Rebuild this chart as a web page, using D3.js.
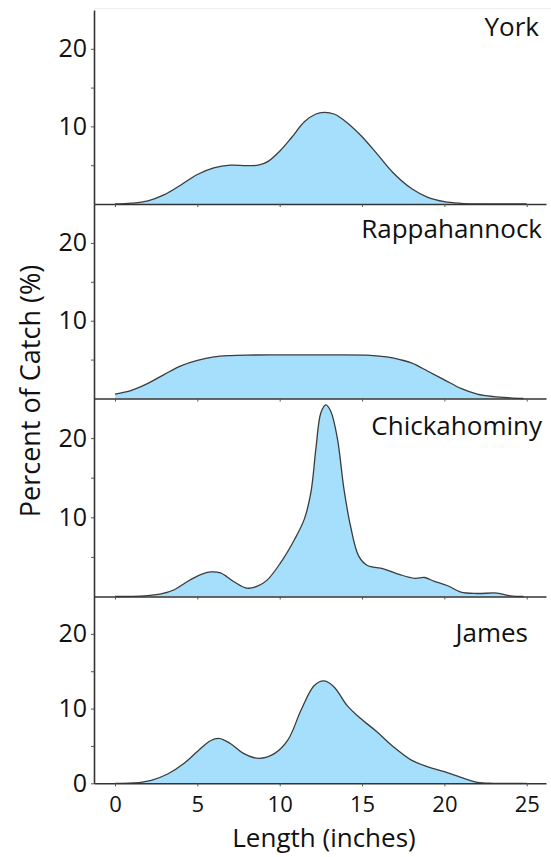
<!DOCTYPE html>
<html>
<head>
<meta charset="utf-8">
<script src="https://cdn.jsdelivr.net/npm/d3@7"></script>
<style>
  body { margin: 0; background: #fff; }
  text { font-family: "Open Sans", Lato, sans-serif; fill: #111; }
</style>
</head>
<body>
<script>

// length (inches), percent of catch
const york = [[0,0],[1,0.1],[2,0.4],[3,1.2],[4,2.45],[5,3.8],[6,4.65],[7,5.0],[8,4.95],[8.7,5.0],[9.3,5.5],[10,6.8],[10.7,8.5],[11.5,10.6],[12.2,11.6],[12.7,11.8],[13.3,11.6],[13.9,10.8],[14.9,8.9],[15.9,6.5],[16.9,4.0],[18,2.0],[19,0.86],[20,0.3],[21,0.09],[22,0.02],[23,0],[25,0]]
const rappahannock = [[0,0.57],[1,1.05],[2,1.95],[3,3.1],[4,4.2],[5,4.9],[6,5.35],[7,5.52],[8,5.58],[10,5.6],[13,5.6],[15.5,5.55],[16.5,5.35],[17.3,5.0],[18,4.57],[19,3.5],[20,2.4],[21,1.3],[22,0.57],[23,0.24],[24,0.08],[24.8,0]]
const chickahominy = [[0,0],[1.8,0.09],[2.8,0.33],[3.6,0.85],[4.4,1.9],[5.2,2.76],[5.8,3.1],[6.4,2.97],[7.2,1.9],[8.0,1.06],[8.65,1.3],[9.25,2.1],[10.05,4.25],[10.9,7.2],[11.5,9.8],[11.9,13.2],[12.2,18.7],[12.5,23.2],[12.8,24.2],[13.1,23.4],[13.5,20],[13.9,13.6],[14.3,8.9],[14.8,5.1],[15.3,3.95],[16.3,3.5],[17.3,2.76],[18.2,2.3],[18.8,2.4],[19.4,1.9],[20.2,1.36],[21,0.55],[22,0.38],[23.2,0.43],[24,0.09],[24.8,0]]
const james = [[0,0],[1.15,0.04],[2.2,0.4],[3.2,1.24],[4.2,2.67],[5.2,4.67],[5.8,5.7],[6.3,6.0],[7.0,5.33],[7.8,4.0],[8.75,3.33],[9.7,4.0],[10.5,5.8],[11.3,9.8],[12.1,13.1],[12.7,13.7],[13.3,12.9],[14.1,10.4],[14.9,8.7],[15.9,6.9],[16.9,4.9],[18,3.1],[19,2.2],[20,1.56],[21,0.8],[22,0.13],[23,0],[25,0]]

const rivers = ["York", "Rappahannock", "Chickahominy", "James"]
const series = [york, rappahannock, chickahominy, james]
const xTicks = [0, 5, 10, 15, 20, 25]
const yTicks = [5, 10, 15, 20]
const yLabels = [10, 20]

// layout
const panelBottom = [204, 398.5, 596.5, 783.3]
const panelTop = [10, 204, 398.5, 596.5]
const labelX = [539, 542, 542, 528]
const labelY = [36, 238, 435, 642]

const svg = d3.select("body")
  .append("svg")
  .attr("width", 551)
  .attr("height", 857)

// faint line at the very top of the picture
svg.append("line")
  .attr("x1", 94).attr("x2", 551)
  .attr("y1", 8.5).attr("y2", 8.5)
  .attr("stroke", "#eee")

const x = d3.scaleLinear()
  .domain([-1.275, 26.17])
  .range([94, 546])

rivers.forEach((name, i) => {
  const y = d3.scaleLinear()
    .domain([0, 25])
    .range([panelBottom[i], panelTop[i]])

  const area = d3.area()
    .x(d => x(d[0]))
    .y0(y(0))
    .y1(d => Math.min(y(0), y(d[1])))
    .curve(d3.curveCatmullRom.alpha(0.5))

  const line = d3.line()
    .x(d => x(d[0]))
    .y(d => Math.min(y(0), y(d[1])))
    .curve(d3.curveCatmullRom.alpha(0.5))

  svg.append("path")
    .datum(series[i])
    .attr("d", area)
    .attr("fill", "#a6dffb")

  svg.append("path")
    .datum(series[i])
    .attr("d", line)
    .attr("fill", "none")
    .attr("stroke", "#3c3c3c")
    .attr("stroke-width", 1.3)

  const last = i === rivers.length - 1

  const yAxis = d3.axisLeft(y)
    .tickValues(last ? [0].concat(yTicks) : yTicks)
    .tickSize(3)
    .tickSizeOuter(0)
    .tickPadding(4)
    .tickFormat(d => (yLabels.includes(d) || (last && d === 0)) ? d : "")

  const gy = svg.append("g")
    .attr("transform", "translate(94,0)")
    .call(yAxis)
  gy.select(".domain").attr("stroke", "#333").attr("stroke-width", 1.6)
  gy.selectAll(".tick line").attr("stroke", "#555")
  gy.selectAll("text").style("font-size", "25px").attr("fill", "#111")

  const xAxis = d3.axisBottom(x)
    .tickValues(xTicks)
    .tickSize(3)
    .tickSizeOuter(0)
    .tickPadding(10)
    .tickFormat(d => last ? d : "")

  const gx = svg.append("g")
    .attr("transform", `translate(0,${panelBottom[i]})`)
    .call(xAxis)
  gx.select(".domain").attr("stroke", "#333").attr("stroke-width", 1.6)
  gx.selectAll(".tick line").attr("stroke", "#555")
  gx.selectAll("text").style("font-size", "22px").attr("fill", "#111")

  svg.append("text")
    .attr("x", labelX[i])
    .attr("y", labelY[i])
    .attr("text-anchor", "end")
    .style("font-size", "26px")
    .text(name)
})

svg.append("text")
  .attr("x", 324)
  .attr("y", 847)
  .attr("text-anchor", "middle")
  .style("font-size", "26px")
  .text("Length (inches)")

svg.append("text")
  .attr("transform", "translate(40,391) rotate(-90)")
  .attr("text-anchor", "middle")
  .style("font-size", "27px")
  .text("Percent of Catch (%)")

</script>
</body>
</html>
